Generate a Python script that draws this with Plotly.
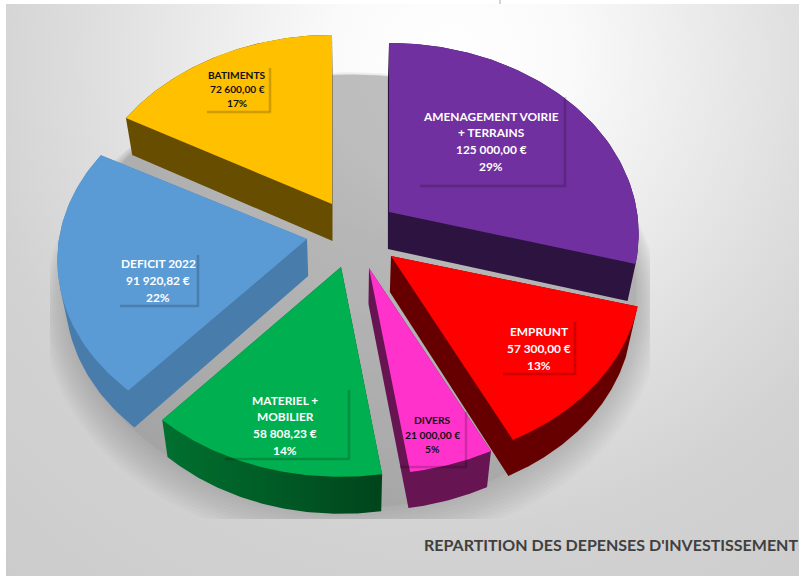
import numpy as np
import plotly.graph_objects as go

# ---- data ----
category_lines = [["AMENAGEMENT VOIRIE", "+ TERRAINS"], ["EMPRUNT"], ["DIVERS"],
                  ["MATERIEL +", "MOBILIER"], ["DEFICIT 2022"], ["BATIMENTS"]]
values = [125000.00, 57300.00, 21000.00, 58808.23, 91920.82, 72600.00]
amount_labels = ["125 000,00 €", "57 300,00 €", "21 000,00 €",
                 "58 808,23 €", "91 920,82 €", "72 600,00 €"]
percent_labels = ["29%", "13%", "5%", "14%", "22%", "17%"]
title_text = "REPARTITION DES DEPENSES D'INVESTISSEMENT"

# ---- styles and layout (pixels) ----
top_colors = ["#7030A0", "#FF0000", "#FF33CC", "#00B050", "#5B9BD5", "#FFC000"]
side_colors = ["#2D1340", "#660000", "#661452", "#00501F", "#487CAB", "#664D00"]
text_colors = ["white", "white", "#111111", "white", "white", "#111111"]
apex_x = [389, 391, 369, 341, 307, 332]
apex_y = [212, 256, 268, 267, 239, 204]
squash = [1.0, 0.975, 0.97, 0.985, 0.975, 1.0]
depths = [37, 36, 36, 37, 37, 37]
label_x = [491, 539, 432, 285, 158, 237]
label_first_y = [116, 331, 420, 400, 263, 75]
line_pitch = [16.8, 17, 14.5, 16.7, 17, 14.2]
font_sizes = [11.9, 11.9, 10.3, 11.9, 11.9, 10.2]
# right edge, top, bottom, left of each label's box
box_r = [565, 575, 466, 349, 198, 270]
box_t = [97, 322, 412, 390, 255, 68]
box_b = [186, 374, 467, 459, 306, 112]
box_l = [420, 503, 400, 225, 120, 207]

RX, RY, K = 248.0, 188.5, 0.115
CX = 350.0
BOTTOM_SCALE = 0.972


def project(theta, scale=1.0):
    """theta clockwise from 12 o'clock -> screen offsets with a perspective tilt."""
    u, v = np.sin(theta), np.cos(theta)
    d = 1 + K * v
    return scale * RX * u / d, -scale * RY * v / d


def hull(points):
    pts = sorted(set((round(float(a), 2), round(float(b), 2)) for a, b in points))

    def half(seq):
        out = []
        for p in seq:
            while len(out) >= 2 and ((out[-1][0] - out[-2][0]) * (p[1] - out[-2][1])
                                     - (out[-1][1] - out[-2][1]) * (p[0] - out[-2][0])) <= 0:
                out.pop()
            out.append(p)
        return out[:-1]

    h = half(pts) + half(pts[::-1])
    h.append(h[0])
    return [p[0] for p in h], [p[1] for p in h]


def polygon(x, y, color, **kw):
    return go.Scatter(x=list(x), y=list(y), mode="lines", fill="toself", fillcolor=color,
                      line=dict(width=0), hoverinfo="skip", showlegend=False, **kw)


fig = go.Figure()

# page background: soft radial light
bx, by, br = 450, 60, 800
fig.add_trace(go.Scatter(
    x=[bx - br, bx + br, bx + br, bx - br, bx - br],
    y=[by - br, by - br, by + br, by + br, by - br],
    mode="lines", fill="toself", line=dict(width=0), hoverinfo="skip", showlegend=False,
    fillgradient=dict(type="radial", colorscale=[
        [0, "#ffffff"], [0.15, "#fafafa"], [0.3, "#ececec"],
        [0.45, "#dedede"], [0.6, "#d2d2d2"], [1, "#c8c8c8"]]),
))

# soft shadow of the whole pie, clipped to a box as in the reference
th = np.linspace(0, 2 * np.pi, 240)
for step in range(12, 0, -1):
    scale = 1.13 + step * 0.009
    dx, dy = project(th, scale)
    cy = 265 + step * 1.6
    fig.add_trace(polygon(np.clip(352 + dx, 50, 650), np.clip(cy + dy, 68, 519),
                          "rgba(110,110,110,0.03)"))
dx, dy = project(th, 1.14)
fig.add_trace(polygon(352 + dx, np.clip(265 + dy, 68, 519), "rgba(125,125,125,0.10)"))

# slices
total = sum(values)
edges = np.concatenate([[0], np.cumsum(values)]) / total * 2 * np.pi
order = [5, 0, 4, 1, 3, 2]
for i in order:
    t = np.linspace(edges[i], edges[i + 1], 80)
    dx, dy = project(t)
    xs = np.concatenate([[apex_x[i]], apex_x[i] + dx, [apex_x[i]]])
    ys = np.concatenate([[apex_y[i]], apex_y[i] + dy * squash[i], [apex_y[i]]])
    bxs = CX + (xs - CX) * BOTTOM_SCALE
    bys = ys + depths[i]
    hx, hy = hull(list(zip(xs, ys)) + list(zip(bxs, bys)))
    if i == 3:
        fig.add_trace(go.Scatter(
            x=hx, y=hy, mode="lines", fill="toself", line=dict(width=0),
            hoverinfo="skip", showlegend=False,
            fillgradient=dict(type="horizontal", colorscale=[
                [0, "#00702F"], [0.45, "#005E27"], [1, "#00441C"]]),
        ))
    else:
        fig.add_trace(polygon(hx, hy, side_colors[i]))
    fig.add_trace(polygon(xs, ys, top_colors[i]))

# label boxes: only the soft dark right and bottom edges are visible
shapes = [dict(type="line", xref="x", yref="paper", x0=500, x1=500, y0=1, y1=1 + 4 / 572,
               line=dict(color="#aaaaaa", width=1), layer="above")]
for i in range(len(values)):
    path = f"M{box_r[i]},{box_t[i]} L{box_r[i]},{box_b[i]} L{box_l[i]},{box_b[i]}"
    shapes.append(dict(type="path", path=path, xref="x", yref="y",
                       line=dict(color="rgba(0,0,0,0.10)", width=3), layer="above"))
    shapes.append(dict(type="path", path=path, xref="x", yref="y",
                       line=dict(color="rgba(0,0,0,0.18)", width=1), layer="above"))

annotations = []
for i in range(len(values)):
    lines = category_lines[i] + [amount_labels[i], percent_labels[i]]
    for j, line in enumerate(lines):
        annotations.append(dict(
            x=label_x[i], y=label_first_y[i] + j * line_pitch[i], xref="x", yref="y",
            showarrow=False, text=f"<b>{line}</b>", align="center",
            xanchor="center", yanchor="middle",
            font=dict(family="Lato", size=font_sizes[i], color=text_colors[i])))
annotations.append(dict(
    x=422, y=544, xref="x", yref="y", showarrow=False, xanchor="left", yanchor="middle",
    text=f"<b>{title_text}</b>",
    font=dict(family="Lato", size=16, color="#404040")))

fig.update_layout(
    width=799, height=576, autosize=False,
    margin=dict(l=6, r=0, t=4, b=0),
    paper_bgcolor="white", plot_bgcolor="white",
    xaxis=dict(range=[6, 799], visible=False, fixedrange=True),
    yaxis=dict(range=[576, 4], visible=False, fixedrange=True),
    shapes=shapes, annotations=annotations, showlegend=False,
)

fig.write_html("out.html", config={"displayModeBar": False},
               post_script="document.body.style.margin='0';")
